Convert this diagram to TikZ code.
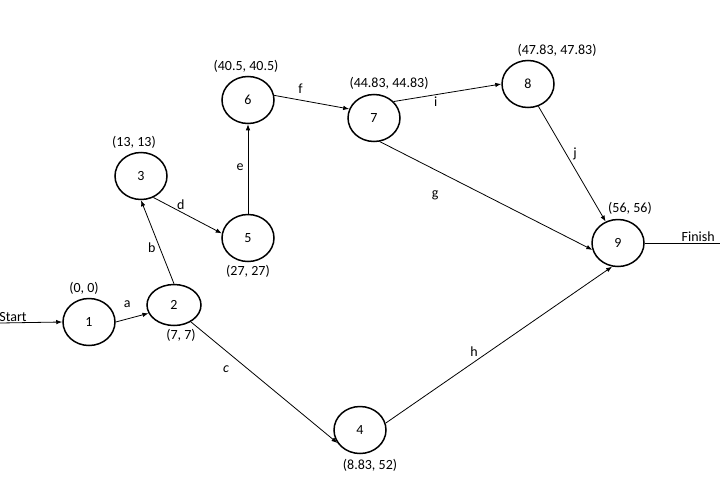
\documentclass[tikz,border=0pt]{standalone}
\usepackage{fontspec}
\setmainfont{Carlito}
\usepackage{tikz}
\usetikzlibrary{arrows.meta,shapes.geometric,positioning}

\begin{document}
\begin{tikzpicture}[
    x=1pt,y=-1pt,
    font=\fontsize{14}{16}\selectfont,
    >={Latex[length=6pt,width=4.5pt]},
    event/.style={ellipse,draw=black,line width=1.5pt,
      minimum width=52pt,minimum height=47pt,inner sep=0pt},
    flow/.style={->,draw=black,line width=0.8pt},
    plain/.style={draw=black,line width=0.8pt},
    lbl/.style={inner sep=0pt},
    times/.style={inner sep=1pt}
  ]
    \useasboundingbox (0,0) rectangle (720,482);

    \node[event] (n1) at (89,322) {1};
    \node[event,minimum width=54pt,minimum height=41pt] (n2) at (174,305) {2};
    \node[event] (n3) at (141,176) {3};
    \node[event] (n4) at (360,430) {4};
    \node[event] (n5) at (248,238) {5};
    \node[event] (n6) at (248,100) {6};
    \node[event] (n7) at (374,118) {7};
    \node[event] (n8) at (528,84) {8};
    \node[event] (n9) at (618,243) {9};

    \coordinate (start) at (0,323);
    \coordinate (finish) at (720,243);

    % earliest / latest times
    \node[times,above=2pt of n1,xshift=-5pt] {(0, 0)};
    \node[times,below=2pt of n2,xshift=7pt] {(7, 7)};
    \node[times,above=2pt of n3,xshift=-7pt] {(13, 13)};
    \node[times,below=2pt of n5] {(27, 27)};
    \node[times,above=2pt of n6,xshift=-2pt] {(40.5, 40.5)};
    \node[times,above=3pt of n7,xshift=15pt] {(44.83, 44.83)};
    \node[times,above=2pt of n8,xshift=29pt] {(47.83, 47.83)};
    \node[times,above=0pt of n9,xshift=12pt,yshift=3pt] {(56, 56)};
    \node[times,below=4pt of n4,xshift=10pt] {(8.83, 52)};

    \draw[flow] (start) -- node[times,above,pos=0.21] {Start} (n1.west);
    \draw[flow] (n1.east) -- node[lbl,pos=0.35,yshift=15pt] {a} (n2.198);
    \draw[flow] (n2.north) -- node[lbl,pos=0.43,xshift=-8pt] {b} (n3.south);
    \draw[flow] (n2.-45) -- node[lbl,pos=0.24,yshift=-18pt] {\textit{c}} (n4.210);
    \draw[flow] (n3.-60) -- node[lbl,pos=0.4,yshift=7pt] {d} (n5.170);
    \draw[flow] (n5.north) -- node[lbl,pos=0.52,xshift=-8pt] {e} (n6.south);
    \draw[flow] (n6.10) -- node[lbl,pos=0.35,yshift=11pt] {f} (n7.160);
    \draw[flow] (n7.40) -- node[lbl,pos=0.39,yshift=-7pt] {i} (n8.west);
    \draw[flow] (n8.-65) -- node[lbl,pos=0.41,xshift=9pt] {j} (n9.120);
    \draw[flow] (n7.-76) -- node[lbl,pos=0.26,yshift=-26pt] {g} (n9.195);
    \draw[flow] (n4.15) -- node[lbl,pos=0.39,yshift=10pt] {h} (n9.256);
    \draw[plain] (n9.east) -- node[times,above,pos=0.71] {Finish} (finish);
  \end{tikzpicture}
\end{document}
